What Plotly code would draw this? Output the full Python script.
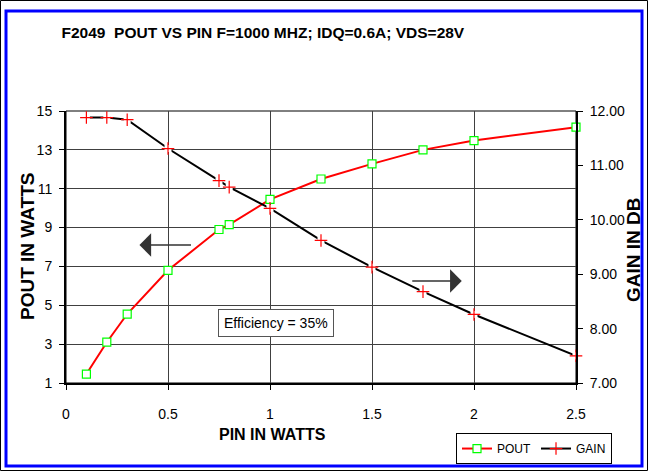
import plotly.graph_objects as go

pin = [0.1, 0.2, 0.3, 0.5, 0.75, 0.8, 1.0, 1.25, 1.5, 1.75, 2.0, 2.5]
pout = [1.46, 3.1, 4.55, 6.8, 8.9, 9.15, 10.45, 11.5, 12.28, 13.0, 13.48, 14.17]
gain = [11.88, 11.88, 11.84, 11.31, 10.72, 10.6, 10.21, 9.62, 9.13, 8.68, 8.26, 7.5]

title_text = "F2049\u00a0 POUT VS PIN F=1000 MHZ; IDQ=0.6A; VDS=28V"
FONT = "Liberation Sans, Arial, sans-serif"

fig = go.Figure()

# GAIN line (black) with white gaps under markers
fig.add_trace(go.Scatter(x=pin, y=gain, yaxis="y2", mode="lines",
                         line=dict(color="black", width=2), showlegend=False, hoverinfo="skip"))
fig.add_trace(go.Scatter(x=pin, y=gain, yaxis="y2", mode="markers", cliponaxis=False,
                         marker=dict(symbol="square", size=7, color="white", line=dict(width=0)),
                         showlegend=False, hoverinfo="skip"))
fig.add_trace(go.Scatter(x=pin, y=gain, yaxis="y2", mode="markers", cliponaxis=False,
                         marker=dict(symbol="cross-thin", size=9, line=dict(color="red", width=1.2)),
                         showlegend=False))

# POUT
fig.add_trace(go.Scatter(x=pin, y=pout, mode="lines+markers", name="POUT", cliponaxis=False,
                         line=dict(color="#ff0000", width=2),
                         marker=dict(symbol="square", size=8, color="white",
                                     line=dict(color="#00ff00", width=1.2))))

# legend-only GAIN
fig.add_trace(go.Scatter(x=[None], y=[None], yaxis="y2", mode="lines+markers", name="GAIN",
                         line=dict(color="black", width=2),
                         marker=dict(symbol="cross-thin", size=9, line=dict(color="red", width=1.2))))

fig.update_layout(
    width=648, height=471,
    margin=dict(l=66, r=72, t=111, b=88, autoexpand=False),
    paper_bgcolor="white", plot_bgcolor="white",
    font=dict(family=FONT, color="black", size=14),
    title=dict(text="<b>" + title_text + "</b>", x=0.386, xref="paper", xanchor="center",
               y=1 - 32.5 / 471, yref="container", yanchor="middle",
               font=dict(size=15.5, family=FONT, color="black")),
    xaxis=dict(range=[0, 2.5], tickvals=[0, 0.5, 1, 1.5, 2, 2.5],
               ticktext=["0", "0.5", "1", "1.5", "2", "2.5"],
               showgrid=True, gridcolor="#404040", gridwidth=1,
               showline=True, linecolor="black", linewidth=2,
               ticks="outside", ticklen=5, tickcolor="black", ticklabelstandoff=12,
               zeroline=False, tickfont=dict(size=14)),
    yaxis=dict(range=[1, 15], tickvals=[1, 3, 5, 7, 9, 11, 13, 15],
               showgrid=True, gridcolor="#404040", gridwidth=1,
               showline=True, linecolor="black", linewidth=2,
               ticks="outside", ticklen=5, tickcolor="black", ticklabelstandoff=4,
               zeroline=False, tickfont=dict(size=14)),
    yaxis2=dict(range=[7, 12], tickvals=[7, 8, 9, 10, 11, 12], tickformat=".2f",
                overlaying="y", side="right", anchor="x",
                showgrid=False, showline=True, linecolor="black", linewidth=2,
                ticks="outside", ticklen=5, tickcolor="black", ticklabelstandoff=4,
                zeroline=False, tickfont=dict(size=14)),
    legend=dict(orientation="h", x=1.0706, xanchor="right", y=-0.184, yanchor="top",
                bordercolor="black", borderwidth=1, bgcolor="white",
                font=dict(size=12, family=FONT), itemwidth=30, tracegroupgap=0),
    showlegend=True,
)

shapes = [
    dict(type="rect", xref="paper", yref="paper", x0=0, x1=1, y0=0, y1=1,
         line=dict(color="black", width=1), layer="below"),
    dict(type="rect", xref="paper", yref="paper",
         x0=(6 - 66) / 510, x1=(642 - 66) / 510, y0=(383 - 466) / 272, y1=(383 - 11) / 272,
         line=dict(color="#0000ff", width=3)),
    dict(type="rect", xref="paper", yref="paper",
         x0=(0.5 - 66) / 510, x1=(647.5 - 66) / 510, y0=(383 - 470.5) / 272, y1=(383 - 0.5) / 272,
         line=dict(color="black", width=1)),
]
fig.update_layout(shapes=shapes)

annotations = [
    dict(text="<b>POUT IN WATTS</b>", xref="paper", yref="paper",
         x=(27 - 66) / 510, y=(383 - 247) / 272, textangle=-90, showarrow=False,
         xanchor="center", yanchor="middle", font=dict(size=19, family=FONT)),
    dict(text="<b>GAIN IN DB</b>", xref="paper", yref="paper",
         x=(633 - 66) / 510, y=(383 - 250) / 272, textangle=-90, showarrow=False,
         xanchor="center", yanchor="middle", font=dict(size=19, family=FONT)),
    dict(text="<b>PIN IN WATTS</b>", xref="paper", yref="paper",
         x=(272 - 66) / 510, y=(383 - 434) / 272, showarrow=False,
         xanchor="center", yanchor="middle", font=dict(size=16, family=FONT)),
    dict(text="Efficiency = 35%", x=1.03, y=4.09, xref="x", yref="y", showarrow=False,
         xanchor="center", yanchor="middle", bordercolor="#555", borderwidth=1,
         borderpad=5, bgcolor="white", font=dict(size=14, family=FONT)),
    dict(x=0.36, y=8.1, ax=0.62, ay=8.1, xref="x", yref="y", axref="x", ayref="y",
         showarrow=True, arrowhead=1, arrowsize=2.6, arrowwidth=1.5, arrowcolor="#333",
         text=""),
    dict(x=1.94, y=6.25, ax=1.69, ay=6.25, xref="x", yref="y", axref="x", ayref="y",
         showarrow=True, arrowhead=1, arrowsize=2.6, arrowwidth=1.5, arrowcolor="#333",
         text=""),
]
fig.update_layout(annotations=annotations)

fig.write_html("out.html", config={"displayModeBar": False},
               post_script="document.body.style.margin='0';document.body.style.overflow='hidden';")
